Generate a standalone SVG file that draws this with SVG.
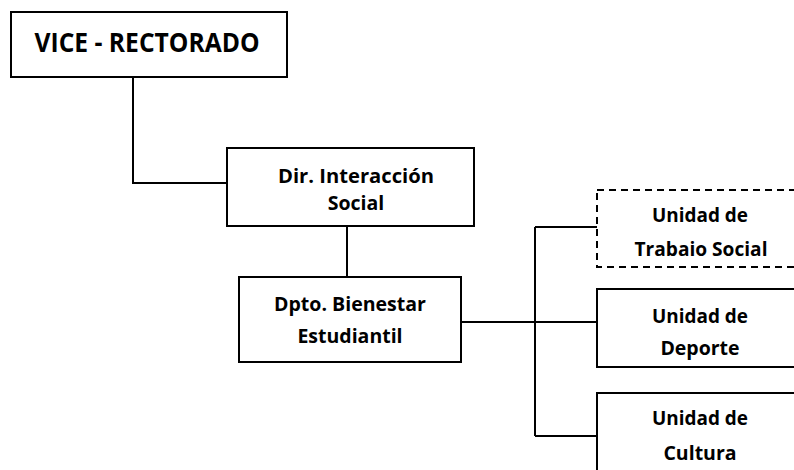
<svg xmlns="http://www.w3.org/2000/svg" width="794" height="470" viewBox="0 0 794 470">
<style>
.box{fill:#fff;stroke:#000;stroke-width:2}
.dash{stroke-dasharray:7 5}
.conn{fill:none;stroke:#000;stroke-width:2}
text{font-family:"Open Sans","Liberation Sans",sans-serif;font-weight:bold;fill:#000;text-anchor:middle}
.big{font-size:26px}
.sm{font-size:19.5px}
</style>
<rect width="794" height="470" fill="#fff"/>
<g id="connectors">
<path class="conn" d="M133 77 V183 H227"/>
<path class="conn" d="M347 226 V277"/>
<path class="conn" d="M461 322 H597"/>
<path class="conn" d="M535 227 V436"/>
<path class="conn" d="M535 227 H597"/>
<path class="conn" d="M535 436 H597"/>
</g>
<g id="vice">
<rect class="box" x="11" y="12" width="276" height="65"/>
<text class="big" x="147" y="52" textLength="225" lengthAdjust="spacingAndGlyphs">VICE - RECTORADO</text>
</g>
<g id="dir">
<rect class="box" x="227" y="148" width="247" height="78"/>
<text class="sm" x="356" y="183" textLength="156" lengthAdjust="spacingAndGlyphs">Dir. Interacción</text>
<text class="sm" x="356" y="210">Social</text>
</g>
<g id="dpto">
<rect class="box" x="239" y="277" width="222" height="85"/>
<text class="sm" x="350" y="311" textLength="152" lengthAdjust="spacingAndGlyphs">Dpto. Bienestar</text>
<text class="sm" x="350" y="343">Estudiantil</text>
</g>
<g id="trabajo">
<rect class="box dash" x="597" y="190" width="210" height="77"/>
<text class="sm" x="700" y="222" textLength="96" lengthAdjust="spacingAndGlyphs">Unidad de</text>
<text class="sm" x="701" y="256" textLength="133" lengthAdjust="spacingAndGlyphs">Trabaio Social</text>
</g>
<g id="deporte">
<rect class="box" x="597" y="289" width="210" height="78"/>
<text class="sm" x="700" y="323" textLength="96" lengthAdjust="spacingAndGlyphs">Unidad de</text>
<text class="sm" x="700" y="355">Deporte</text>
</g>
<g id="cultura">
<rect class="box" x="597" y="393" width="210" height="90"/>
<text class="sm" x="700" y="425" textLength="96" lengthAdjust="spacingAndGlyphs">Unidad de</text>
<text class="sm" x="700" y="460">Cultura</text>
</g>
</svg>
